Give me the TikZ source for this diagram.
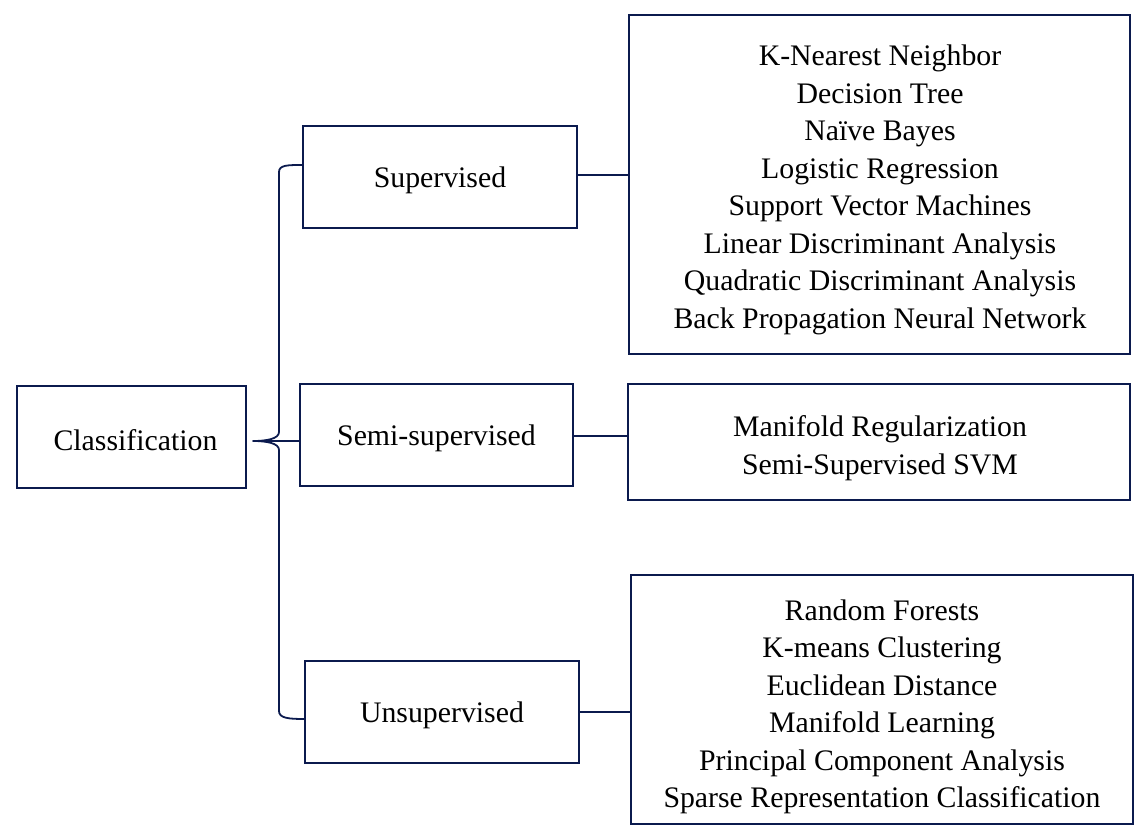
\documentclass[tikz,border=0pt]{standalone}
\usepackage{fontspec}
\setmainfont{Liberation Serif}
\definecolor{navy}{HTML}{0B1A4E}
\begin{document}
\begin{tikzpicture}[x=1pt,y=-1pt,
  box/.style={draw=navy,line width=1.8pt,rectangle,inner sep=0pt},
  lbl/.style={font=\fontsize{29.8}{37.5}\selectfont,text=black,align=center},
  conn/.style={draw=navy,line width=1.8pt}]
\useasboundingbox (0,0) rectangle (1144,840);
% main boxes
\node[box,minimum width=229pt,minimum height=102pt] (cls) at (131.5,437) {};
\node[lbl] at ([xshift=4pt,yshift=-3pt]cls.center) {Classification};
\node[box,minimum width=274pt,minimum height=102pt] (sup) at (440,177) {};
\node[lbl] at ([yshift=-3pt]sup.center) {Supervised};
\node[box,minimum width=273pt,minimum height=102pt] (semi) at (436.5,435) {};
\node[lbl] at ([yshift=-3pt]semi.center) {Semi-supervised};
\node[box,minimum width=274pt,minimum height=102pt] (uns) at (442,712) {};
\node[lbl] at ([yshift=-3pt]uns.center) {Unsupervised};
% list boxes
\node[box,minimum width=501pt,minimum height=339pt] (supl) at (879.5,184.5) {};
\node[lbl] at (880,190) {K-Nearest Neighbor\\Decision Tree\\Naïve Bayes\\Logistic Regression\\Support Vector Machines\\Linear Discriminant Analysis\\Quadratic Discriminant Analysis\\Back Propagation Neural Network};
\node[box,minimum width=502pt,minimum height=116pt] (semil) at (879,442) {};
\node[lbl] at (880,448) {Manifold Regularization\\Semi-Supervised SVM};
\node[box,minimum width=502pt,minimum height=249pt] (unsl) at (882,699.5) {};
\node[lbl] at (882,707) {Random Forests\\K-means Clustering\\Euclidean Distance\\Manifold Learning\\Principal Component Analysis\\Sparse Representation Classification};
% connectors to lists
\draw[conn] (sup.east |- 0,175) -- (supl.west |- 0,175);
\draw[conn] (semi.east |- 0,436) -- (semil.west |- 0,436);
\draw[conn] (uns.east |- 0,712) -- (unsl.west |- 0,712);
% brace
\coordinate (bt) at (sup.west |- 0,165);
\coordinate (bb) at (uns.west |- 0,719);
\coordinate (tip) at (253,441);
\draw[conn,line join=round] (bt) .. controls (288,165) and (279,165) .. (279,172)
  -- (279,432) .. controls (279,439) and (266,441) .. (tip)
  .. controls (266,441) and (279,443) .. (279,450)
  -- (279,711) .. controls (279,718) and (288,719) .. (bb);
\draw[conn] (tip) -- (semi.west |- 0,441);
\end{tikzpicture}
\end{document}
